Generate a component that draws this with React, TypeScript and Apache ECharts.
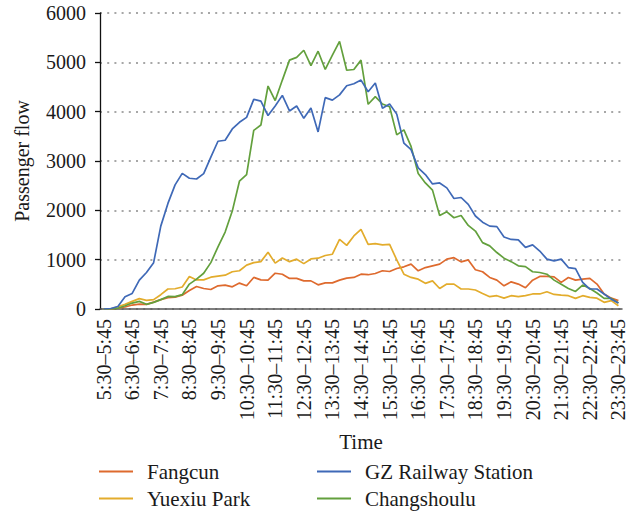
import React, { useEffect, useRef } from "react";
import * as echarts from "echarts";

const hours = [5, 6, 7, 8, 9, 10, 11, 12, 13, 14, 15, 16, 17, 18, 19, 20, 21, 22, 23];
const quarterStarts = ["30", "45", "00", "15"];
const quarterEnds = ["45", "00", "15", "30"];

const categories: string[] = [];
hours.forEach((h) => {
  quarterStarts.forEach((qs, k) => {
    if (h === 23 && k > 0) return;
    const sh = k < 2 ? h : h + 1;
    const eh = k === 0 ? h : h + 1;
    categories.push(`${sh}:${qs}\u2013${eh}:${quarterEnds[k]}`);
  });
});

const fangcun = [
  0, 0, 15, 40, 80, 100, 95, 140, 190, 230,
  240, 280, 375, 455, 415, 395, 470, 485, 450, 525,
  470, 640, 590, 585, 725, 705, 620, 620, 570, 570,
  490, 530, 530, 585, 625, 640, 705, 695, 720, 775,
  760, 820, 855, 910, 775, 840, 875, 910, 1010, 1040,
  955, 995, 795, 755, 640, 585, 470, 550, 505, 430,
  585, 660, 660, 650, 540, 640, 585, 605, 620, 505,
  305, 220, 170,
];

const yuexiuPark = [
  0, 0, 45, 95, 155, 210, 175, 190, 290, 405,
  410, 445, 660, 590, 590, 645, 665, 685, 755, 775,
  890, 940, 960, 1150, 930, 1035, 960, 1010, 920, 1015,
  1030, 1085, 1110, 1410, 1290, 1480, 1615, 1310, 1325, 1300,
  1310, 995, 705, 640, 605, 520, 570, 415, 505, 505,
  405, 405, 385, 315, 250, 270, 220, 270, 250, 270,
  305, 305, 350, 295, 280, 270, 215, 270, 235, 220,
  135, 170, 65,
];

const gzRailway = [
  0, 10, 50, 250, 315, 585, 740, 940, 1680, 2140,
  2515, 2750, 2650, 2635, 2745, 3080, 3400, 3420, 3650, 3785,
  3885, 4250, 4215, 3920, 4115, 4330, 4015, 4115, 3865, 4075,
  3590, 4285, 4235, 4340, 4525, 4565, 4640, 4405, 4580, 4070,
  4155, 3950, 3360, 3230, 2860, 2725, 2535, 2555, 2455, 2240,
  2260, 2120, 1885, 1760, 1680, 1670, 1460, 1410, 1400, 1250,
  1300, 1175, 1010, 975, 1010, 840, 820, 540, 405, 405,
  305, 200, 120,
];

const changshoulu = [
  0, 0, 15, 65, 120, 155, 95, 135, 190, 255,
  250, 290, 505, 605, 725, 940, 1260, 1560, 1985, 2590,
  2725, 3620, 3730, 4520, 4225, 4640, 5045, 5100, 5245, 4935,
  5225, 4855, 5145, 5425, 4840, 4855, 5045, 4150, 4305, 4155,
  4100, 3530, 3630, 3295, 2745, 2555, 2410, 1895, 1970, 1850,
  1895, 1695, 1580, 1345, 1280, 1145, 1030, 960, 875, 860,
  755, 740, 705, 585, 500, 415, 355, 485, 415, 325,
  215, 215, 120,
];

const seriesNames = ["Fangcun", "Yuexiu Park", "GZ Railway Station", "Changshoulu"];
const seriesColors = ["#DE6A2E", "#E3AC2C", "#3F69B7", "#63A03D"];
const seriesData = [fangcun, yuexiuPark, gzRailway, changshoulu];

const FONT = "Liberation Serif";

export default function App() {
  const ref = useRef<HTMLDivElement>(null);
  useEffect(() => {
    if (!ref.current) return;
    const chart = echarts.init(ref.current, undefined, { renderer: "svg" });
    const legendPos = [
      { left: 99, top: 461 },
      { left: 99, top: 488 },
      { left: 317, top: 461 },
      { left: 317, top: 488 },
    ];
    chart.setOption({
      animation: false,
      textStyle: { fontFamily: FONT },
      grid: { left: 100, right: 13, top: 13, bottom: 204, containLabel: false },
      legend: seriesNames.map((n, i) => ({
        data: [n],
        left: legendPos[i].left,
        top: legendPos[i].top,
        padding: 0,
        icon: "rect",
        itemWidth: 34,
        itemHeight: 2,
        textStyle: { fontFamily: FONT, fontSize: 21, color: "#1a1a1a", padding: [0, 0, 0, 9] },
        selectedMode: false,
      })),
      xAxis: {
        type: "category",
        data: categories,
        boundaryGap: true,
        name: "Time",
        nameLocation: "middle",
        nameGap: 122,
        nameTextStyle: { fontFamily: FONT, fontSize: 21, color: "#1a1a1a" },
        axisLine: { show: true, lineStyle: { color: "#555555", width: 1.5 } },
        axisTick: { show: false },
        axisLabel: {
          rotate: 90,
          interval: 3,
          fontFamily: FONT,
          fontSize: 20,
          color: "#1a1a1a",
          margin: 10,
        },
        splitLine: { show: false },
      },
      yAxis: {
        type: "value",
        min: 0,
        max: 6000,
        interval: 1000,
        name: "Passenger flow",
        nameLocation: "middle",
        nameGap: 68,
        nameTextStyle: { fontFamily: FONT, fontSize: 20, color: "#1a1a1a" },
        axisLine: { show: true, lineStyle: { color: "#111111", width: 1.3 } },
        axisTick: { show: true, inside: false, length: 5, lineStyle: { color: "#111111", width: 1.3 } },
        axisLabel: {
          fontFamily: FONT,
          fontSize: 20,
          color: "#1a1a1a",
          margin: 14,
          formatter: (v: number) => String(v),
        },
        splitLine: {
          show: true,
          lineStyle: { color: "#8a8a8a", width: 1.6, type: [2, 5.2] },
        },
      },
      series: seriesNames.map((n, i) => ({
        name: n,
        type: "line",
        data: seriesData[i],
        symbol: "none",
        showSymbol: false,
        color: seriesColors[i],
        lineStyle: { width: 1.7, color: seriesColors[i] },
        z: i === 2 ? 3 : 2,
      })),
    });
    return () => chart.dispose();
  }, []);
  return (
    <div
      ref={ref}
      style={{ position: "fixed", left: 0, top: 0, width: 635, height: 513, background: "#fff" }}
    />
  );
}
